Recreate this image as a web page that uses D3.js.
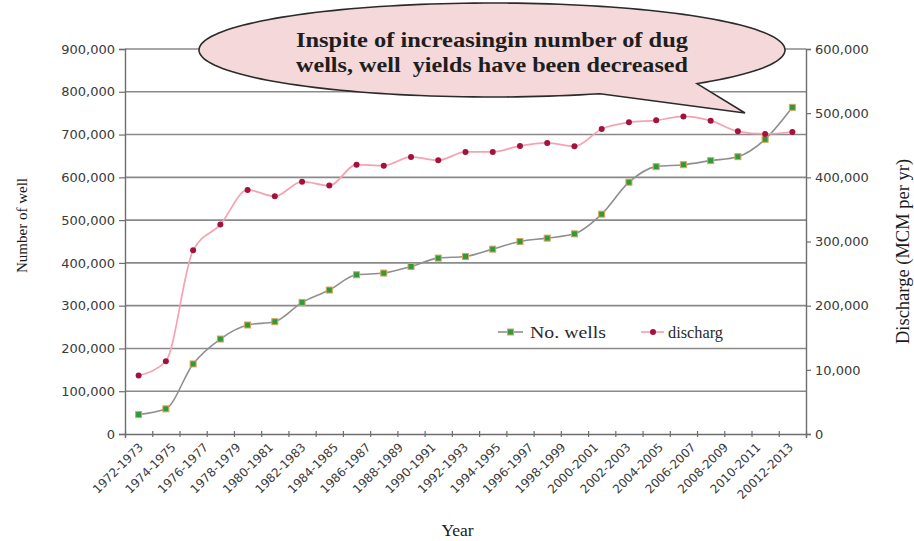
<!DOCTYPE html>
<html>
<head>
<meta charset="utf-8">
<script src="https://cdn.jsdelivr.net/npm/d3@7"></script>
<style>
  html, body { margin: 0; padding: 0; background: #ffffff; }
  svg { display: block; }
</style>
</head>
<body>
<svg id="chart" width="914" height="541"></svg>
<script>
// Dug wells count and their total discharge, two-year periods 1972-2013
const wells = [45500, 58800, 163800, 222000, 254800, 262500, 307600, 336500, 372200, 376200,
  391600, 411200, 415000, 432200, 450000, 457900, 467900, 513900, 588600, 625000,
  629600, 639000, 648300, 688900, 763600];
const discharge = [91100, 113400, 286300, 326300, 380400, 370400, 393300, 387100, 419800, 418200,
  431800, 426500, 439600, 439600, 449000, 453600, 448300, 475400, 485700, 488800,
  495000, 488300, 471700, 467600, 470700];

const yearLabels = ["1972-1973", "1974-1975", "1976-1977", "1978-1979", "1980-1981", "1982-1983",
  "1984-1985", "1986-1987", "1988-1989", "1990-1991", "1992-1993", "1994-1995", "1996-1997",
  "1998-1999", "2000-2001", "2002-2003", "2004-2005", "2006-2007", "2008-2009", "2010-2011",
  "20012-2013"];

const leftTicks = [0, 100000, 200000, 300000, 400000, 500000, 600000, 700000, 800000, 900000];
const leftTickLabels = ["0", "100,000", "200,000", "300,000", "400,000", "500,000", "600,000",
  "700,000", "800,000", "900,000"];
const rightTicks = [0, 100000, 200000, 300000, 400000, 500000, 600000];
const rightTickLabels = ["0", "10,000", "200,000", "300,000", "400,000", "500,000", "600,000"];

const seriesNames = ["No. wells", "discharg"];
const calloutLines = ["Inspite of increasingin number of dug", "wells, well  yields have been decreased"];

const svg = d3.select("#chart");
const W = 914, H = 541;
const m = { left: 125, right: 108, top: 49, bottom: 107 };
const x0 = m.left, x1 = W - m.right, yTop = m.top, yBot = H - m.bottom;

const idx = d3.range(wells.length);
const x = d3.scaleBand().domain(idx).range([x0, x1]).paddingInner(0).paddingOuter(0);
const cx = i => x(i) + x.bandwidth() / 2;
const yL = d3.scaleLinear().domain([0, 900000]).range([yBot, yTop]);
const yR = d3.scaleLinear().domain([0, 600000]).range([yBot, yTop]);

const gridColor = "#8a8a8a";
const axisColor = "#6e6e6e";
const tickFont = "DejaVu Sans, Verdana, sans-serif";
const serif = "Liberation Serif, Times New Roman, serif";

// horizontal gridlines on the left-axis ticks
svg.append("g").selectAll("line").data(leftTicks.filter(d => d > 0)).join("line")
  .attr("x1", x0).attr("x2", x1)
  .attr("y1", d => yL(d)).attr("y2", d => yL(d))
  .attr("stroke", gridColor).attr("stroke-width", 1.6);

// left axis
const leftAxis = d3.axisLeft(yL).tickValues(leftTicks).tickSize(6).tickPadding(4)
  .tickFormat((d, i) => leftTickLabels[i]);
const gL = svg.append("g").attr("transform", `translate(${x0},0)`).call(leftAxis);
// right axis
const rightAxis = d3.axisRight(yR).tickValues(rightTicks).tickSize(5).tickPadding(4)
  .tickFormat((d, i) => rightTickLabels[i]);
const gR = svg.append("g").attr("transform", `translate(${x1},0)`).call(rightAxis);
// bottom axis: tick marks on category boundaries
const boundaries = d3.range(wells.length + 1);
const xb = d3.scaleLinear().domain([0, wells.length]).range([x0, x1]);
const bottomAxis = d3.axisBottom(xb).tickValues(boundaries).tickSize(4).tickFormat("");
const gB = svg.append("g").attr("transform", `translate(0,${yBot})`).call(bottomAxis);
gB.selectAll(".tick line").attr("y1", -3).attr("y2", 3);

[gL, gR, gB].forEach(g => {
  g.select(".domain").attr("stroke", axisColor).attr("stroke-width", 1.4);
  g.selectAll(".tick line").attr("stroke", axisColor).attr("stroke-width", 1.2);
  g.selectAll(".tick text").attr("font-family", tickFont).attr("font-size", 13)
    .attr("fill", "#3a3a3a");
});

// period labels, rotated
const xl = d3.scalePoint().domain(yearLabels).range([x0 + 19, x1 - 12]);
svg.append("g").selectAll("text").data(yearLabels).join("text")
  .attr("transform", d => `translate(${xl(d)},${yBot + 14}) rotate(-45)`)
  .attr("text-anchor", "end")
  .attr("font-family", tickFont).attr("font-size", 12)
  .attr("fill", "#3a3a3a")
  .text(d => d);

// series lines (smoothed, no overshoot)
const curve = d3.curveMonotoneX;
const lineL = d3.line().x((d, i) => cx(i)).y(d => yL(d)).curve(curve);
const lineR = d3.line().x((d, i) => cx(i)).y(d => yR(d)).curve(curve);

svg.append("path").datum(wells).attr("d", lineL)
  .attr("fill", "none").attr("stroke", "#8f8f8f").attr("stroke-width", 1.6);
svg.append("path").datum(discharge).attr("d", lineR)
  .attr("fill", "none").attr("stroke", "#f5a3b1").attr("stroke-width", 1.7);

const sq = 6;
svg.append("g").selectAll("rect").data(wells).join("rect")
  .attr("x", (d, i) => cx(i) - sq / 2).attr("y", d => yL(d) - sq / 2)
  .attr("width", sq).attr("height", sq)
  .attr("fill", "#2f9a3c").attr("stroke", "#d9a55a").attr("stroke-width", 1);
svg.append("g").selectAll("circle").data(discharge).join("circle")
  .attr("cx", (d, i) => cx(i)).attr("cy", d => yR(d)).attr("r", 3)
  .attr("fill", "#a3123f");

// legend
const lg = svg.append("g").attr("transform", "translate(498,332)");
lg.append("line").attr("x1", 0).attr("x2", 25).attr("y1", 0).attr("y2", 0)
  .attr("stroke", "#8f8f8f").attr("stroke-width", 1.6);
lg.append("rect").attr("x", 12.5 - sq / 2).attr("y", -sq / 2).attr("width", sq).attr("height", sq)
  .attr("fill", "#2f9a3c").attr("stroke", "#d9a55a").attr("stroke-width", 1);
lg.append("text").attr("x", 32).attr("y", 6).text(seriesNames[0])
  .attr("font-family", serif).attr("font-size", 17.5).attr("fill", "#2a2a2a")
  .attr("textLength", 76).attr("lengthAdjust", "spacingAndGlyphs");
lg.append("line").attr("x1", 143).attr("x2", 166).attr("y1", 0).attr("y2", 0)
  .attr("stroke", "#f5a3b1").attr("stroke-width", 1.7);
lg.append("circle").attr("cx", 155).attr("cy", 0).attr("r", 3).attr("fill", "#a3123f");
lg.append("text").attr("x", 170).attr("y", 6).text(seriesNames[1])
  .attr("font-family", serif).attr("font-size", 17.5).attr("fill", "#2a2a2a")
  .attr("textLength", 55).attr("lengthAdjust", "spacingAndGlyphs");

// axis titles
svg.append("text").attr("transform", `translate(27,${(yTop + yBot) / 2 - 16}) rotate(-90)`)
  .attr("text-anchor", "middle").attr("font-family", serif).attr("font-size", 15)
  .attr("fill", "#1a1a1a").text("Number of well");
svg.append("text").attr("transform", `translate(909,${(yTop + yBot) / 2 + 10}) rotate(-90)`)
  .attr("text-anchor", "middle").attr("font-family", serif).attr("font-size", 18.5)
  .attr("fill", "#1a1a1a").text("Discharge (MCM per yr)");
svg.append("text").attr("x", (x0 + x1) / 2 - 8).attr("y", 536)
  .attr("text-anchor", "middle").attr("font-family", serif).attr("font-size", 17.5)
  .attr("fill", "#1a1a1a").text("Year");

// speech-bubble callout
const ecx = 492, ecy = 50, erx = 293, ery = 47;
const ey = xx => ecy + ery * Math.sqrt(1 - Math.pow((xx - ecx) / erx, 2));
const a1 = Math.acos((697 - ecx) / erx); // tail start angle (lower side)
const a2 = Math.acos((600 - ecx) / erx); // tail end angle
const tip = [745, 113];
const pts = [];
pts.push([697, ey(697)], tip, [600, ey(600)]);
const steps = 160;
for (let k = 1; k < steps; k++) {
  const t = a2 + (2 * Math.PI - (a2 - a1)) * k / steps;
  pts.push([ecx + erx * Math.cos(t), ecy + ery * Math.sin(t)]);
}
svg.append("path")
  .attr("d", "M" + pts.map(p => p[0].toFixed(2) + "," + p[1].toFixed(2)).join("L") + "Z")
  .attr("fill", "#f4d8da").attr("stroke", "#2b2b2b").attr("stroke-width", 1.6)
  .attr("stroke-linejoin", "miter");

svg.append("g").selectAll("text").data(calloutLines).join("text")
  .attr("x", 296).attr("y", (d, i) => 47 + i * 25)
  .attr("font-family", serif).attr("font-size", 22).attr("font-weight", "bold")
  .attr("fill", "#1e1e1e").style("white-space", "pre")
  .attr("textLength", 392).attr("lengthAdjust", "spacingAndGlyphs")
  .text(d => d);
</script>
</body>
</html>
